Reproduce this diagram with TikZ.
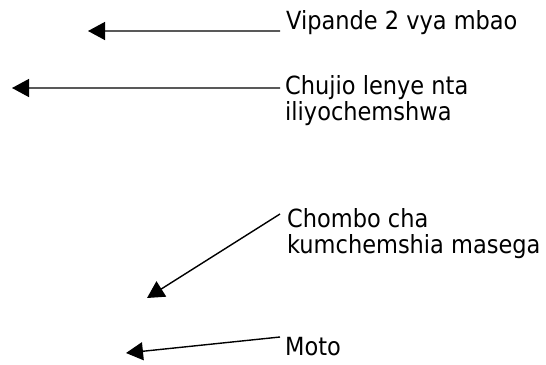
\documentclass[tikz,border=0pt]{standalone}
\usepackage{fontspec}
\setmainfont{DejaVu Sans Condensed}
\usetikzlibrary{arrows.meta}
\begin{document}
\begin{tikzpicture}[x=1bp,y=-1bp,
  lbl/.style={anchor=base west,inner sep=0pt,align=left,
    font=\fontsize{25bp}{26bp}\selectfont},
  pointer/.style={line width=1.4bp,
    -{Triangle[length=17bp,width=18bp]}}]
\useasboundingbox (0,0) rectangle (546,364);
% labels (anchored on the baseline of their last line)
\node[lbl] (t1) at (286,29) {Vipande 2 vya mbao};
\node[lbl] (t2) at (285,120) {Chujio lenye nta\\iliyochemshwa};
\node[lbl] (t3) at (287,253) {Chombo cha\\kumchemshia masega};
\node[lbl] (t4) at (285,355) {Moto};
% arrow tips
\coordinate (p1) at (88,31);
\coordinate (p2) at (12,88);
\coordinate (p3) at (147,298);
\coordinate (p4) at (126,353);
% pointers
\draw[pointer] ([xshift=-6bp,yshift=-2bp]t1.base west) -- (p1);
\draw[pointer] ([xshift=-5bp,yshift=32bp]t2.base west) -- (p2);
\draw[pointer] ([xshift=-7bp,yshift=39bp]t3.base west) -- (p3);
\draw[pointer] ([xshift=-5bp,yshift=18bp]t4.base west) -- (p4);
\end{tikzpicture}
\end{document}
